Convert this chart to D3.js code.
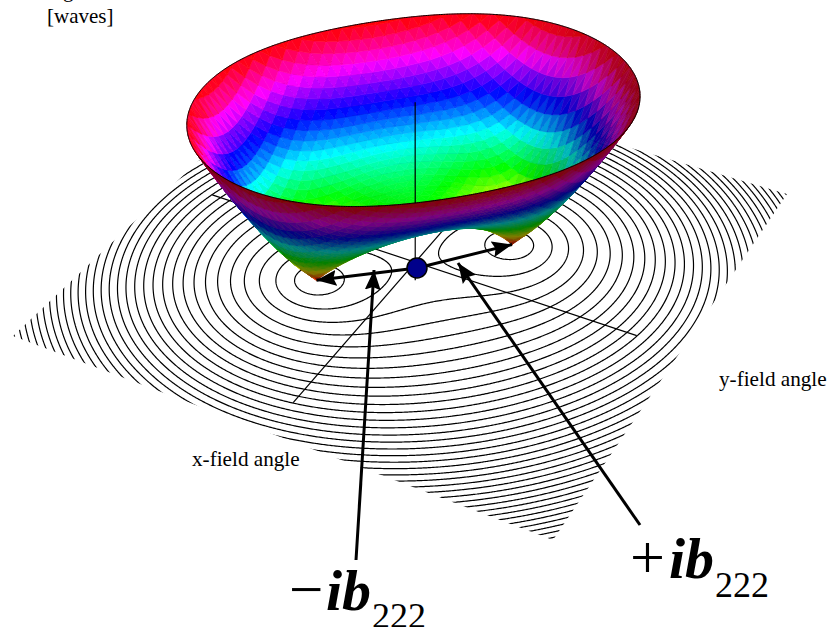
<!DOCTYPE html>
<html>
<head>
<meta charset="utf-8">
<script src="https://cdn.jsdelivr.net/npm/d3@7"></script>
<style>
  html, body { margin: 0; background: #fff; }
  svg { display: block; }
  text { font-family: "Liberation Serif", serif; fill: #000; }
</style>
</head>
<body>
<svg id="chart" width="828" height="627"></svg>
<script>
//================ VALUES =========================================
// contour heights, one per ring on the floor
const contourLevels = [0.06, 0.12, 0.18, 0.24, 0.30, 0.36, 0.42, 0.48, 0.54, 0.60, 0.66, 0.72,
  0.78, 0.84, 0.90, 0.96, 1.02, 1.08, 1.14, 1.20, 1.26, 1.32, 1.38, 1.44, 1.50, 1.56, 1.62,
  1.68, 1.74, 1.80, 1.86, 1.92, 1.98, 2.04, 2.10];
const nodeSquare = 0.128;     // node distance squared, field units
const rimLevel = 0.38;        // height where the bowl is cut
const axisExtent = [-0.84, 0.84];
const zAxisExtent = [-0.05, 0.384];
const hueStops = [0, 60, 120, 180, 240, 300, 360];

//================ PROJECTION ======================================
const width = 828, height = 627;
const quad = { L: [13, 336], B: [553, 540], R: [787, 194], T: [312, 54] };
const vanish = [416, 1475];
const lift = -0.316;

const [x0, y0] = quad.L, [x1, y1] = quad.B, [x2, y2] = quad.R, [x3, y3] = quad.T;
const dx1 = x1 - x2, dy1 = y1 - y2, dx2 = x3 - x2, dy2 = y3 - y2;
const sx = x0 - x1 + x2 - x3, sy = y0 - y1 + y2 - y3;
const den = dx1 * dy2 - dx2 * dy1;
const g = (sx * dy2 - dx2 * sy) / den, h = (dx1 * sy - sx * dy1) / den;
const a = x1 - x0 + g * x1, b = x3 - x0 + h * x3, c = x0;
const d = y1 - y0 + g * y1, e = y3 - y0 + h * y3, f = y0;

const toUnit = d3.scaleLinear().domain([-1, 1]).range([0, 1]);

function project(u, v, z) {
  const s = toUnit(u), t = toUnit(v);
  const w = g * s + h * t + 1 + lift * z;
  return [
    (a * s + b * t + c + lift * vanish[0] * z) / w,
    (d * s + e * t + f + lift * vanish[1] * z) / w,
    w
  ];
}

function level(u, v) {
  return Math.hypot(u * u - v * v, 2 * u * v - nodeSquare);
}

const svg = d3.select('#chart');
const line = d3.line();
const defs = svg.append('defs');

//================== FLOOR CONTOURS ================================
defs.append('clipPath').attr('id', 'floorClip').append('path')
  .attr('d', line([quad.L, quad.B, quad.R, quad.T]) + 'Z');

const n = 520, gridMax = 1.15;
const gridScale = d3.scaleLinear().domain([0.5, n - 0.5]).range([-gridMax, gridMax]);
const values = new Float64Array(n * n);
for (let j = 0; j < n; j++) {
  for (let i = 0; i < n; i++) {
    values[i + j * n] = level(gridScale(i + 0.5), gridScale(j + 0.5));
  }
}
const contours = d3.contours().size([n, n]).smooth(true);

// rings that run along the grid border are not real contours
function innerRing(ring) {
  return d3.min(ring, p => Math.min(p[0], p[1])) > 2 && d3.max(ring, p => Math.max(p[0], p[1])) < n - 2;
}

function ringPath(geometry, z, keep) {
  let out = '';
  geometry.coordinates.forEach(poly => poly.forEach(ring => {
    if (keep && !keep(ring)) return;
    out += line(ring.map(p => project(gridScale(p[0]), gridScale(p[1]), z).slice(0, 2))) + 'Z';
  }));
  return out;
}

svg.append('g').attr('clip-path', 'url(#floorClip)')
  .selectAll('path')
  .data(contours.thresholds(contourLevels)(values))
  .enter().append('path')
  .attr('d', c => ringPath(c, 0))
  .attr('fill', 'none')
  .attr('stroke', '#000')
  .attr('stroke-width', 1.2);

//================== FIELD AXES ====================================
const axisLines = [
  [project(0, axisExtent[0], 0), project(0, axisExtent[1], 0)],
  [project(axisExtent[0], 0, 0), project(axisExtent[1], 0, 0)],
  [project(0, 0, zAxisExtent[0]), project(0, 0, zAxisExtent[1])]
];
svg.append('g').selectAll('path').data(axisLines).enter().append('path')
  .attr('d', l => line(l.map(p => p.slice(0, 2))))
  .attr('stroke', '#000').attr('stroke-width', 1.2).attr('fill', 'none');

//================== BOWL ==========================================
const nodeU = Math.sqrt(nodeSquare / 2);
const step = nodeU / 9;
const cells = d3.range(-34, 34);
const light = [0.88, -0.08, 0.47];
const hueScale = d3.scaleLinear()
  .domain(hueStops.map((s, i) => rimLevel * i / (hueStops.length - 1)))
  .range(hueStops);

function clipToRim(tri) {
  const out = [];
  tri.forEach((p, i) => {
    const q = tri[(i + 1) % tri.length];
    if (p[2] <= rimLevel) out.push(p);
    if ((p[2] <= rimLevel) !== (q[2] <= rimLevel)) {
      const k = (rimLevel - p[2]) / (q[2] - p[2]);
      out.push([p[0] + k * (q[0] - p[0]), p[1] + k * (q[1] - p[1]), rimLevel]);
    }
  });
  return out;
}

const facets = [];
function addFacet(tri) {
  const poly = clipToRim(tri);
  if (poly.length < 3) return;
  const pts = tri.map(p => project(p[0], p[1], p[2]));
  const area = (pts[1][0] - pts[0][0]) * (pts[2][1] - pts[0][1]) -
               (pts[1][1] - pts[0][1]) * (pts[2][0] - pts[0][0]);
  const ax = tri[1][0] - tri[0][0], ay = tri[1][1] - tri[0][1], az = tri[1][2] - tri[0][2];
  const bx = tri[2][0] - tri[0][0], by = tri[2][1] - tri[0][1], bz = tri[2][2] - tri[0][2];
  let nx = ay * bz - az * by, ny = az * bx - ax * bz, nz = ax * by - ay * bx;
  const nl = Math.hypot(nx, ny, nz);
  const dot = (nx * light[0] + ny * light[1] + nz * light[2]) / nl;
  const upper = area < 0;
  const value = upper ? Math.max(0.5, Math.min(1, 0.72 + 0.45 * dot)) : 0.5;
  const meanZ = d3.mean(poly, p => p[2]);
  const proj = poly.map(p => project(p[0], p[1], p[2]));
  facets.push({
    path: line(proj.map(p => p.slice(0, 2))) + 'Z',
    depth: d3.mean(proj, p => p[2]),
    color: d3.hsl(hueScale(meanZ) % 360, 1, value / 2).formatHex()
  });
}

cells.forEach(i => cells.forEach(j => {
  const pt = (ci, cj) => {
    const u = ci * step, v = cj * step;
    return [u, v, level(u, v)];
  };
  addFacet([pt(i, j), pt(i + 1, j), pt(i + 1, j + 1)]);
  addFacet([pt(i, j), pt(i + 1, j + 1), pt(i, j + 1)]);
}));
facets.sort((p, q) => q.depth - p.depth);

svg.append('g').selectAll('path').data(facets).enter().append('path')
  .attr('d', t => t.path)
  .attr('fill', t => t.color)
  .attr('stroke', t => t.color)
  .attr('stroke-width', 0.6);

// rim outline, and the part of the z axis seen inside the bowl
const rimGeometry = contours.thresholds([rimLevel])(values)[0];
const rimD = ringPath(rimGeometry, rimLevel, innerRing);
defs.append('clipPath').attr('id', 'rimClip').append('path').attr('d', rimD);
svg.append('path')
  .attr('d', line(axisLines[2].map(p => p.slice(0, 2))))
  .attr('clip-path', 'url(#rimClip)')
  .attr('stroke', '#000').attr('stroke-width', 1.2).attr('fill', 'none');
svg.append('path').attr('d', rimD)
  .attr('fill', 'none').attr('stroke', '#000').attr('stroke-width', 1);

//================== ARROWS AND CENTER DOT =========================
defs.append('marker').attr('id', 'head')
  .attr('viewBox', '0 0 20 16').attr('refX', 20).attr('refY', 8)
  .attr('markerWidth', 20).attr('markerHeight', 16)
  .attr('markerUnits', 'userSpaceOnUse').attr('orient', 'auto')
  .append('path').attr('d', 'M0,0L20,8L0,16L3,8Z').attr('fill', '#000');

const nodeA = project(-nodeU, -nodeU, 0), nodeB = project(nodeU, nodeU, 0);
const arrows = [
  { from: [417, 268], to: nodeA.slice(0, 2), w: 3 },
  { from: [417, 268], to: nodeB.slice(0, 2), w: 3 },
  { from: [356, 560], to: [374, 270], w: 3 },
  { from: [640, 525], to: [458, 263], w: 3 }
];
svg.append('g').selectAll('path').data(arrows).enter().append('path')
  .attr('d', r => line([r.from, r.to]))
  .attr('stroke', '#000').attr('stroke-width', r => r.w)
  .attr('fill', 'none').attr('marker-end', 'url(#head)');

svg.append('circle').attr('cx', 417).attr('cy', 268).attr('r', 10)
  .attr('fill', '#00008b').attr('stroke', '#000').attr('stroke-width', 1.5);

//================== TEXT ==========================================
const labels = [
  { t: 'Magnitude', x: 35, y: -3, s: 21 },
  { t: '[waves]', x: 47, y: 23, s: 21 },
  { t: 'x-field angle', x: 192, y: 466, s: 21.2 },
  { t: 'y-field angle', x: 719, y: 386, s: 21.2 },
  { t: '\u2212', x: 289, y: 610, s: 61 },
  { t: 'ib', x: 326, y: 610, s: 58, bold: true },
  { t: '222', x: 372, y: 628, s: 36 },
  { t: '+', x: 630, y: 578, s: 62 },
  { t: 'ib', x: 669, y: 578, s: 58, bold: true },
  { t: '222', x: 715, y: 597, s: 36 }
];
svg.append('g').selectAll('text').data(labels).enter().append('text')
  .attr('x', l => l.x).attr('y', l => l.y)
  .attr('font-size', l => l.s)
  .attr('font-weight', l => l.bold ? 'bold' : 'normal')
  .attr('font-style', l => l.bold ? 'italic' : 'normal')
  .text(l => l.t);
</script>
</body>
</html>
